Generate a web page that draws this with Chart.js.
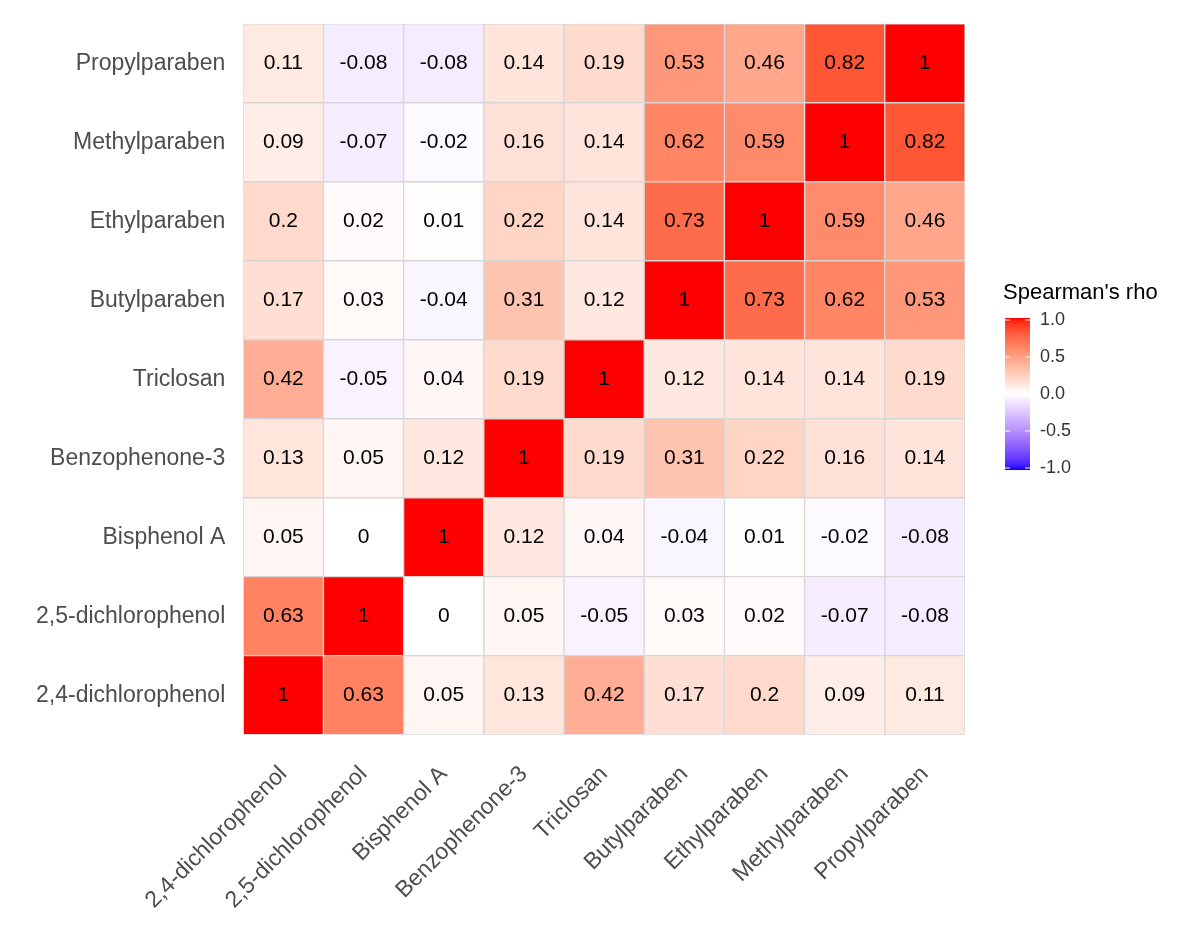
<!DOCTYPE html>
<html>
<head>
<meta charset="utf-8">
<script src="https://cdn.jsdelivr.net/npm/chart.js@4.4.0/dist/chart.umd.min.js"></script>
<style>
  body { margin: 0; background: #fff; }
  #wrap { width: 1201px; height: 932px; }
</style>
</head>
<body>
<div id="wrap"><canvas id="heat"></canvas></div>
<script>
// compounds, bottom row first / left column first
const compounds = ['2,4-dichlorophenol', '2,5-dichlorophenol', 'Bisphenol A', 'Benzophenone-3',
  'Triclosan', 'Butylparaben', 'Ethylparaben', 'Methylparaben', 'Propylparaben'];

const rho24dcp   = [1, 0.63, 0.05, 0.13, 0.42, 0.17, 0.2, 0.09, 0.11];
const rho25dcp   = [0.63, 1, 0, 0.05, -0.05, 0.03, 0.02, -0.07, -0.08];
const rhoBpa     = [0.05, 0, 1, 0.12, 0.04, -0.04, 0.01, -0.02, -0.08];
const rhoBp3     = [0.13, 0.05, 0.12, 1, 0.19, 0.31, 0.22, 0.16, 0.14];
const rhoTric    = [0.42, -0.05, 0.04, 0.19, 1, 0.12, 0.14, 0.14, 0.19];
const rhoButyl   = [0.17, 0.03, -0.04, 0.31, 0.12, 1, 0.73, 0.62, 0.53];
const rhoEthyl   = [0.2, 0.02, 0.01, 0.22, 0.14, 0.73, 1, 0.59, 0.46];
const rhoMethyl  = [0.09, -0.07, -0.02, 0.16, 0.14, 0.62, 0.59, 1, 0.82];
const rhoPropyl  = [0.11, -0.08, -0.08, 0.14, 0.19, 0.53, 0.46, 0.82, 1];
const rows = [rho24dcp, rho25dcp, rhoBpa, rhoBp3, rhoTric, rhoButyl, rhoEthyl, rhoMethyl, rhoPropyl];

const legendTicks = [1.0, 0.5, 0.0, -0.5, -1.0];

// colour scale blue - white - red, mixed in Lab like ggplot
function toLab(r, g, b) {
  const lin = c => { c /= 255; return c > 0.04045 ? Math.pow((c + 0.055) / 1.055, 2.4) : c / 12.92; };
  r = lin(r); g = lin(g); b = lin(b);
  let x = (r * 0.4124 + g * 0.3576 + b * 0.1805) / 0.95047;
  let y = r * 0.2126 + g * 0.7152 + b * 0.0722;
  let z = (r * 0.0193 + g * 0.1192 + b * 0.9505) / 1.08883;
  const f = t => t > 0.008856 ? Math.cbrt(t) : 7.787 * t + 16 / 116;
  x = f(x); y = f(y); z = f(z);
  return [116 * y - 16, 500 * (x - y), 200 * (y - z)];
}
function fromLab(L, a, bb) {
  let y = (L + 16) / 116, x = a / 500 + y, z = y - bb / 200;
  const fi = t => t * t * t > 0.008856 ? t * t * t : (t - 16 / 116) / 7.787;
  x = fi(x) * 0.95047; y = fi(y); z = fi(z) * 1.08883;
  let r = x * 3.2406 + y * -1.5372 + z * -0.4986;
  let g = x * -0.9689 + y * 1.8758 + z * 0.0415;
  let b = x * 0.0557 + y * -0.2040 + z * 1.0570;
  const gam = c => { c = c > 0.0031308 ? 1.055 * Math.pow(c, 1 / 2.4) - 0.055 : 12.92 * c; return Math.round(Math.min(1, Math.max(0, c)) * 255); };
  return 'rgb(' + gam(r) + ',' + gam(g) + ',' + gam(b) + ')';
}
const labRed = toLab(255, 0, 0), labBlue = toLab(0, 0, 255), labWhite = toLab(255, 255, 255);
function rhoColor(v) {
  const end = v >= 0 ? labRed : labBlue, t = Math.abs(v);
  return fromLab(labWhite[0] + (end[0] - labWhite[0]) * t,
                 labWhite[1] + (end[1] - labWhite[1]) * t,
                 labWhite[2] + (end[2] - labWhite[2]) * t);
}

const datasets = rows.map((vals, i) => ({
  data: vals.map(() => [i, i + 1]),
  backgroundColor: vals.map(rhoColor),
  borderColor: '#d6d6d6',
  borderWidth: 1,
  borderSkipped: false,
  barPercentage: 1,
  categoryPercentage: 1,
  grouped: false
}));

const cellText = {
  id: 'cellText',
  afterDatasetsDraw(chart) {
    const ctx = chart.ctx, xs = chart.scales.x, ys = chart.scales.y;
    ctx.save();
    ctx.font = '21px "Liberation Sans", Arial, sans-serif';
    ctx.fillStyle = '#000';
    ctx.textAlign = 'center';
    ctx.textBaseline = 'middle';
    rows.forEach((vals, i) => {
      vals.forEach((v, j) => {
        ctx.fillText(String(v), xs.getPixelForValue(j), ys.getPixelForValue(i + 0.5));
      });
    });
    ctx.restore();
  }
};

const colourBar = {
  id: 'colourBar',
  afterDraw(chart) {
    const ctx = chart.ctx;
    const x0 = 1005, w = 25, top = 318, bot = 470;
    ctx.save();
    const grad = ctx.createLinearGradient(0, top, 0, bot);
    for (let k = 0; k <= 40; k++) grad.addColorStop(k / 40, rhoColor(1 - 2 * k / 40));
    ctx.fillStyle = grad;
    ctx.fillRect(x0, top, w, bot - top);
    ctx.font = '22px "Liberation Sans", Arial, sans-serif';
    ctx.fillStyle = '#000';
    ctx.textBaseline = 'middle';
    ctx.fillText("Spearman's rho", 1003, 293);
    ctx.font = '18px "Liberation Sans", Arial, sans-serif';
    ctx.fillStyle = '#333';
    legendTicks.forEach(t => {
      const y = top + 2 + (1 - t) / 2 * (bot - top - 4);
      ctx.fillText(t.toFixed(1), 1040, y);
      ctx.strokeStyle = '#fff';
      ctx.beginPath();
      ctx.moveTo(x0, y); ctx.lineTo(x0 + 5, y);
      ctx.moveTo(x0 + w - 5, y); ctx.lineTo(x0 + w, y);
      ctx.stroke();
    });
    ctx.restore();
  }
};

new Chart(document.getElementById('heat').getContext('2d'), {
  type: 'bar',
  data: { labels: compounds, datasets: datasets },
  options: {
    responsive: true,
    maintainAspectRatio: false,
    animation: false,
    layout: { padding: { top: 0, right: 236, left: 26, bottom: 0 } },
    plugins: { legend: { display: false }, tooltip: { enabled: false } },
    scales: {
      x: {
        offset: true,
        grid: { display: false },
        border: { display: false },
        ticks: {
          color: '#4d4d4d', minRotation: 45, maxRotation: 45, padding: 18,
          font: { size: 23, family: '"Liberation Sans", Arial, sans-serif' }
        }
      },
      y: {
        min: 0, max: 9,
        grid: { display: false },
        border: { display: false },
        afterBuildTicks(scale) { scale.ticks = compounds.map((_, i) => ({ value: i + 0.5 })); },
        ticks: {
          color: '#4d4d4d', padding: 10,
          font: { size: 23, family: '"Liberation Sans", Arial, sans-serif' },
          callback: v => compounds[Math.round(v - 0.5)]
        }
      }
    }
  },
  plugins: [cellText, colourBar]
});
</script>
</body>
</html>
